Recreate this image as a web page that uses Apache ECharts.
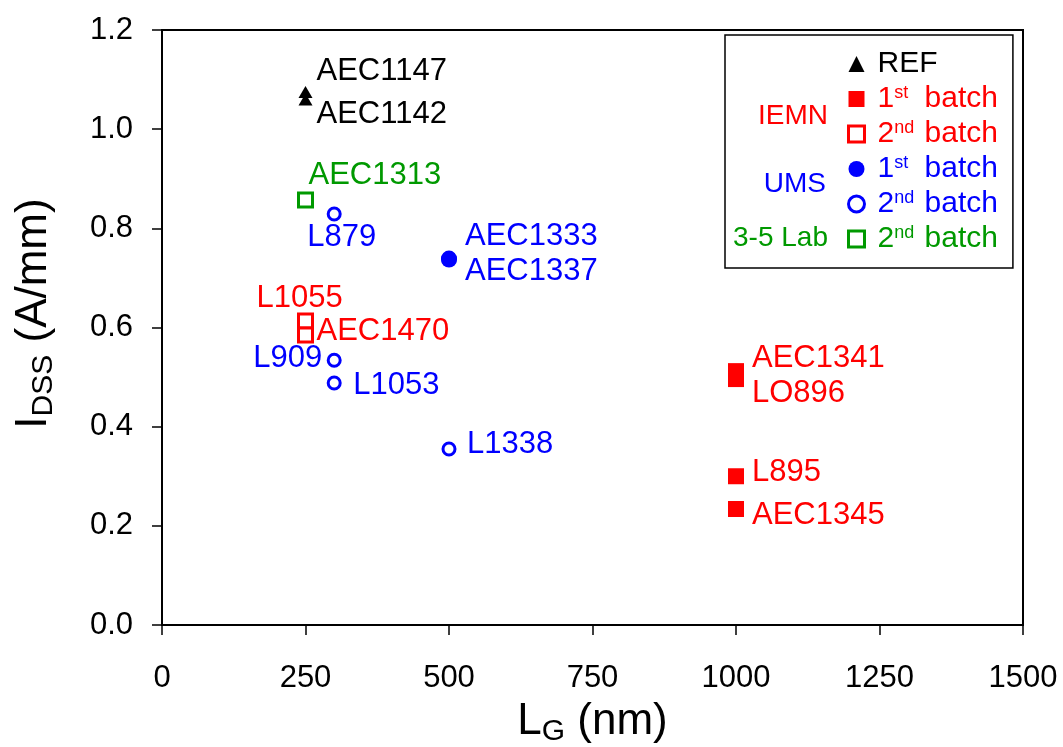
<!DOCTYPE html>
<html>
<head>
<meta charset="utf-8">
<script src="https://cdn.jsdelivr.net/npm/echarts@6/dist/echarts.min.js"></script>
<style>html,body{margin:0;padding:0;background:#fff;}#c{width:1063px;height:747px;}</style>
</head>
<body>
<div id="c"></div>
<script>
// ---- data ----
const xTicks = [0, 250, 500, 750, 1000, 1250, 1500];
const yTicks = [0.0, 0.2, 0.4, 0.6, 0.8, 1.0, 1.2];

const refNames = ['AEC1147', 'AEC1142'];
const refX = [250, 250];
const refY = [1.075, 1.06];

const iemn1Names = ['AEC1341', 'LO896', 'L895', 'AEC1345'];
const iemn1X = [1000, 1000, 1000, 1000];
const iemn1Y = [0.512, 0.496, 0.300, 0.234];

const iemn2Names = ['L1055', 'AEC1470'];
const iemn2X = [250, 250];
const iemn2Y = [0.613, 0.585];

const ums1Names = ['AEC1333', 'AEC1337'];
const ums1X = [500, 500];
const ums1Y = [0.739, 0.737];

const ums2Names = ['L879', 'L909', 'L1053', 'L1338'];
const ums2X = [300, 300, 300, 500];
const ums2Y = [0.829, 0.534, 0.488, 0.355];

const lab2Names = ['AEC1313'];
const lab2X = [250];
const lab2Y = [0.857];

// ---- label placement (styles, not data) ----
const labelPlace = {
  'AEC1147': {off: [11, -21]},
  'AEC1142': {off: [11, 15]},
  'AEC1313': {off: [3, -25]},
  'L1055':   {off: [-49, -23]},
  'AEC1470': {off: [11, -3]},
  'L909':    {off: [-12, -2], align: 'right'},
  'L1053':   {off: [19, 2]},
  'L1338':   {off: [18, -5]},
  'AEC1341': {off: [16, -13]},
  'LO896':   {off: [16, 14]},
  'L895':    {off: [16, -4]},
  'AEC1345': {off: [16, 6]},
  'L879':    {off: [-27, 23]},
  'AEC1333': {off: [16, -22]},
  'AEC1337': {off: [16, 12]}
};

const RED = '#ff0000', BLUE = '#0000ff', GREEN = '#009900', BLACK = '#000000';
const FONT = '"Liberation Sans", Arial, Helvetica, sans-serif';

function pts(names, xs, ys) {
  return names.map(function (n, i) {
    const p = labelPlace[n] || {off: [10, 0]};
    return {
      name: n,
      value: [xs[i], ys[i]],
      label: {offset: p.off, align: p.align || 'left'}
    };
  });
}

function mkSeries(name, names, xs, ys, symbol, size, color, filled) {
  return {
    name: name,
    type: 'scatter',
    symbol: symbol,
    symbolSize: size,
    data: pts(names, xs, ys),
    itemStyle: filled
      ? {color: color, borderWidth: 0, opacity: 1}
      : {color: '#ffffff', borderColor: color, borderWidth: 3, opacity: 1},
    label: {
      show: true,
      position: 'inside',
      verticalAlign: 'middle',
      formatter: '{b}',
      color: color,
      opacity: 1,
      fontSize: 31,
      fontFamily: FONT
    },
    emphasis: {disabled: true},
    z: 3
  };
}

const legendMap = {
  'REF':      {c: 'k', txt: 'REF'},
  'IEMN 1st': {c: 'r', n: '1', s: 'st'},
  'IEMN 2nd': {c: 'r', n: '2', s: 'nd'},
  'UMS 1st':  {c: 'b', n: '1', s: 'st'},
  'UMS 2nd':  {c: 'b', n: '2', s: 'nd'},
  'Lab 2nd':  {c: 'g', n: '2', s: 'nd'}
};
const colOf = {k: BLACK, r: RED, b: BLUE, g: GREEN};
const rich = {sp: {width: 8, fontSize: 30, lineHeight: 30}};
Object.keys(colOf).forEach(function (k) {
  rich[k] = {color: colOf[k], fontSize: 30, lineHeight: 30, fontFamily: FONT};
  rich[k + 's'] = {color: colOf[k], fontSize: 18, lineHeight: 18, width: 22, verticalAlign: 'top', fontFamily: FONT};
});

const option = {
  animation: false,
  backgroundColor: '#ffffff',
  grid: {
    left: 162, right: 40, top: 30, bottom: 122,
    containLabel: false,
    outerBoundsMode: 'none',
    show: true, borderColor: '#000', borderWidth: 2, backgroundColor: 'transparent'
  },
  xAxis: {
    type: 'value',
    min: xTicks[0], max: xTicks[xTicks.length - 1], interval: 250,
    name: '{m|L}{s|G}{m| (nm)}',
    nameLocation: 'middle',
    nameGap: 72,
    nameTextStyle: {
      rich: {
        m: {fontSize: 44, lineHeight: 50, color: '#000', fontFamily: FONT},
        s: {fontSize: 30, lineHeight: 22, verticalAlign: 'bottom', color: '#000', fontFamily: FONT}
      }
    },
    axisLine: {show: true, onZero: false, lineStyle: {color: '#000', width: 2}},
    axisTick: {show: true, length: 10, lineStyle: {color: '#000', width: 1.5}},
    axisLabel: {
      margin: 38, fontSize: 31, color: '#000', fontFamily: FONT,
      formatter: function (v) { return String(v); }
    },
    splitLine: {show: false}
  },
  yAxis: {
    type: 'value',
    min: yTicks[0], max: yTicks[yTicks.length - 1], interval: 0.2,
    name: '{m|I}{s|DSS}{m| (A/mm)}',
    nameLocation: 'middle',
    nameRotate: 90,
    nameGap: 103,
    nameTextStyle: {
      padding: [0, 0, 0, 28],
      rich: {
        m: {fontSize: 44, lineHeight: 50, color: '#000', fontFamily: FONT},
        s: {fontSize: 30, lineHeight: 22, verticalAlign: 'bottom', color: '#000', fontFamily: FONT}
      }
    },
    axisLine: {show: true, onZero: false, lineStyle: {color: '#000', width: 2}},
    axisTick: {show: true, length: 10, lineStyle: {color: '#000', width: 1.5}},
    axisLabel: {
      margin: 29, fontSize: 31, color: '#000', fontFamily: FONT,
      formatter: function (v) { return v.toFixed(1); }
    },
    splitLine: {show: false}
  },
  legend: {
    orient: 'vertical',
    left: 725, top: 35,
    padding: [14, 15, 14, 122],
    itemGap: 5,
    itemWidth: 16, itemHeight: 16,
    borderColor: '#000', borderWidth: 1.5,
    selectedMode: false,
    data: [
      {name: 'REF', icon: 'triangle', itemStyle: {color: BLACK}},
      {name: 'IEMN 1st', icon: 'rect', itemStyle: {color: RED}},
      {name: 'IEMN 2nd', icon: 'rect', itemStyle: {color: '#fff', borderColor: RED, borderWidth: 3}},
      {name: 'UMS 1st', icon: 'circle', itemStyle: {color: BLUE}},
      {name: 'UMS 2nd', icon: 'circle', itemStyle: {color: '#fff', borderColor: BLUE, borderWidth: 3}},
      {name: 'Lab 2nd', icon: 'rect', itemStyle: {color: '#fff', borderColor: GREEN, borderWidth: 3}}
    ],
    formatter: function (name) {
      const m = legendMap[name];
      if (m.txt) return '{sp| }{' + m.c + '|' + m.txt + '}';
      return '{sp| }{' + m.c + '|' + m.n + '}{' + m.c + 's|' + m.s + '}{' + m.c + '| batch}';
    },
    textStyle: {rich: rich, fontSize: 30, fontFamily: FONT}
  },
  graphic: [
    {type: 'text', right: 1063 - 828, top: 102, style: {text: 'IEMN', fill: RED, font: '28px ' + FONT}},
    {type: 'text', right: 1063 - 826, top: 170, style: {text: 'UMS', fill: BLUE, font: '28px ' + FONT}},
    {type: 'text', right: 1063 - 828, top: 224, style: {text: '3-5 Lab', fill: GREEN, font: '28px ' + FONT}}
  ],
  series: [
    mkSeries('REF', refNames, refX, refY, 'triangle', [14, 12], BLACK, true),
    mkSeries('IEMN 1st', iemn1Names, iemn1X, iemn1Y, 'rect', 16, RED, true),
    mkSeries('IEMN 2nd', iemn2Names, iemn2X, iemn2Y, 'rect', 14, RED, false),
    mkSeries('UMS 1st', ums1Names, ums1X, ums1Y, 'circle', 16, BLUE, true),
    mkSeries('UMS 2nd', ums2Names, ums2X, ums2Y, 'circle', 12, BLUE, false),
    mkSeries('Lab 2nd', lab2Names, lab2X, lab2Y, 'rect', 14, GREEN, false)
  ]
};

const chart = echarts.init(document.getElementById('c'), null, {renderer: 'canvas'});
chart.setOption(option);
</script>
</body>
</html>
